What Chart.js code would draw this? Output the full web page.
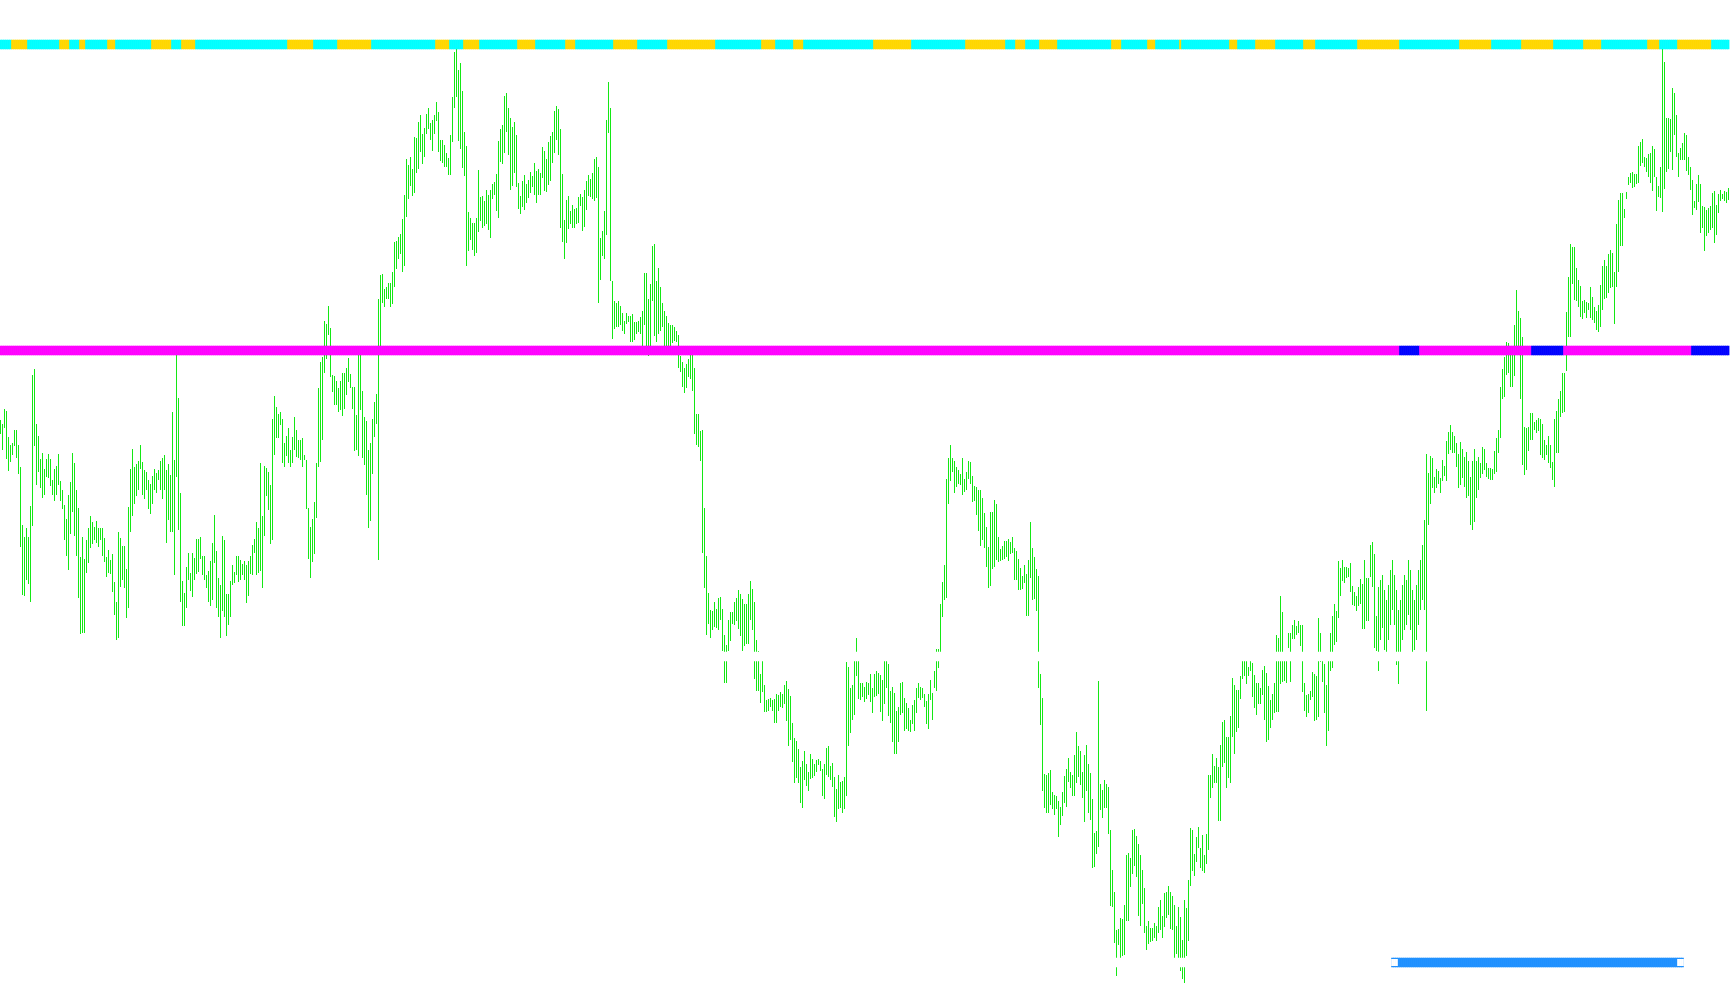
<!DOCTYPE html>
<html>
<head>
<meta charset="utf-8">
<script src="https://cdn.jsdelivr.net/npm/chart.js@4.4.1/dist/chart.umd.min.js"></script>
<style>
  html, body { margin: 0; padding: 0; background: #fff; overflow: hidden; }
  #priceChart { display: block; }
</style>
</head>
<body>
<canvas id="priceChart" width="1730" height="1005"></canvas>
<script>
// bar highs, one per bar (price units)
const highs = [
  580,576,591,589,563,555,557,570,570,555, 533,475,463,472,463,494,625,631,576,564,
  541,547,531,541,546,541,520,531,534,546, 519,510,495,481,505,518,547,537,510,492,
  443,463,441,460,472,484,478,473,479,472, 472,472,462,443,450,440,446,418,398,468,
  462,454,454,431,493,531,551,533,536,539, 555,538,530,528,520,516,524,531,527,530,
  539,542,545,530,536,525,588,540,650,602, 507,419,407,433,447,427,447,442,461,461,
  463,444,444,425,429,439,457,485,449,422, 415,464,460,406,406,419,435,428,444,444,
  440,436,439,435,439,444,455,461,478,472, 537,484,534,532,528,515,581,604,593,586,
  588,581,557,564,572,550,563,583,570,560, 560,562,545,540,492,473,481,498,537,612,
  638,643,679,676,694,672,625,624,619,612, 619,627,627,632,642,626,613,613,585,650,
  648,609,583,579,550,557,581,598,606,701, 725,726,711,713,717,717,728,758,759,763,
  766,781,805,841,835,843,831,863,862,878, 885,866,872,886,892,877,880,885,898,888,
  860,860,855,847,842,865,903,948,952,930, 937,909,868,854,788,782,777,777,782,830,
  803,804,799,810,805,810,816,818,826,859, 871,875,904,907,892,882,873,878,865,817,
  804,819,825,816,820,828,824,837,829,831, 827,853,849,841,858,864,868,889,894,891,
  871,826,780,800,804,789,795,791,792,803, 806,803,810,819,825,821,827,841,843,833,
  762,769,789,880,918,892,719,699,697,699, 694,687,679,687,684,684,686,678,678,679,
  683,689,727,727,701,716,754,756,719,732, 713,697,689,684,677,675,675,673,669,665,
  644,638,632,636,641,646,651,632,586,586, 569,570,492,444,407,390,389,398,391,402,
  403,391,365,355,380,388,388,398,402,410, 406,401,396,396,406,419,411,398,360,349,
  326,339,315,300,301,302,300,301,306,305, 308,306,315,319,311,304,277,262,259,251,
  233,239,249,236,228,246,241,236,240,241, 239,231,236,252,254,234,237,223,211,225,
  218,219,223,338,333,312,315,339,362,345, 317,317,313,318,317,326,312,326,329,327,
  325,320,339,342,336,309,313,307,289,293, 317,318,302,297,292,280,295,300,312,317,
  313,312,306,299,306,320,307,329,351,351, 396,418,435,521,542,555,542,539,533,530,
  526,542,521,528,539,538,524,514,513,510, 510,502,487,473,453,488,488,500,496,463,
  451,454,459,459,461,458,463,452,449,441, 432,424,435,426,440,478,452,443,431,424,
  326,302,226,225,227,230,208,205,204,199, 193,208,224,231,242,228,225,245,268,254,
  249,228,245,255,236,227,201,167,169,319, 216,210,220,216,213,170,130,108,70,71,
  82,81,95,145,147,142,170,171,164,156, 145,130,112,74,79,72,72,77,74,93,
  100,84,107,108,114,108,104,95,74,93, 83,60,100,92,120,172,170,146,163,173,
  152,165,145,166,225,225,246,234,242,233, 255,278,280,263,263,284,322,315,310,310,
  324,344,344,344,333,344,337,325,317,317, 312,330,334,327,314,300,306,317,365,362,
  404,388,345,345,367,367,375,380,374,379, 375,375,317,305,306,309,328,326,324,382,
  367,345,336,315,339,367,384,396,389,439, 432,440,433,433,432,437,414,408,404,413,
  421,416,440,422,422,455,458,446,384,413, 420,425,410,400,415,430,440,425,410,390,
  400,415,425,420,440,430,410,400,415,430, 440,455,480,546,527,544,542,523,531,529,
  522,540,534,559,568,575,568,564,557,546, 558,551,543,548,539,523,539,551,539,543,
  537,553,551,537,532,532,531,549,562,570, 613,631,643,658,657,645,654,675,710,689,
  682,663,573,572,573,587,587,578,580,582, 581,576,560,555,564,555,538,581,589,601,
  609,627,627,688,723,756,753,753,732,720, 714,699,700,698,697,713,703,693,689,695,
  715,734,740,734,746,750,747,728,776,800, 807,807,791,808,823,827,828,826,826,854,
  858,861,843,842,846,847,854,851,823,814, 833,951,938,882,882,881,912,907,885,847,
  852,857,867,865,843,833,820,799,816,825, 816,794,793,790,792,794,807,809,795,806,
  810,806,809,808,812
];

// bar lows, one per bar
const lows = [
  566,550,572,541,529,538,545,554,542,526, 453,405,404,420,416,398,474,554,515,528,
  512,502,505,523,522,514,505,499,505,515, 499,491,460,444,430,466,488,464,444,402,
  366,367,367,427,437,452,456,460,457,453, 460,444,438,423,427,426,408,385,360,362,
  413,420,412,382,392,468,484,496,504,510, 531,505,501,510,491,486,496,510,507,520,
  510,501,510,457,480,468,468,425,523,470, 398,374,374,392,420,409,403,420,426,428,
  441,425,420,412,398,394,400,437,392,383, 362,389,383,364,375,383,415,417,425,418,
  420,425,420,397,404,426,425,447,425,427, 429,412,464,504,490,456,460,545,562,562,
  575,537,533,544,537,533,537,550,543,542, 540,533,540,491,441,422,438,446,482,533,
  538,560,627,641,665,623,608,595,595,588, 590,584,591,605,618,612,591,549,550,544,
  590,542,535,505,472,479,526,563,576,440, 653,697,693,701,701,693,696,713,731,741,
  746,728,734,783,801,814,804,807,827,831, 848,836,843,866,871,860,849,866,879,848,
  839,837,833,833,825,825,858,892,903,859, 851,832,824,734,749,760,750,744,747,768,
  779,772,774,776,770,762,801,805,789,782, 838,836,847,868,845,810,814,827,813,791,
  786,793,790,797,802,807,813,805,797,805, 805,822,809,808,815,819,837,847,860,845,
  772,758,741,757,771,776,772,772,776,777, 794,769,773,790,804,803,801,799,802,697,
  720,744,741,765,867,719,661,671,673,673, 675,669,666,676,678,658,658,660,666,668,
  666,650,675,650,644,650,699,664,658,666, 669,673,652,650,650,650,657,659,658,632,
  628,613,607,612,623,621,609,566,555,553, 539,447,412,365,376,362,370,373,372,370,
  380,349,317,317,349,359,376,375,379,371, 364,349,354,356,356,380,370,321,309,309,
  297,308,288,288,289,293,289,277,277,289, 293,292,296,279,254,260,238,217,222,217,
  197,192,220,214,209,221,222,224,228,235, 229,204,201,225,223,220,213,183,178,191,
  192,187,191,204,254,267,280,285,324,301, 300,303,298,301,305,298,287,303,304,306,
  288,279,296,312,284,277,258,246,246,258, 285,287,269,271,269,268,276,269,287,302,
  300,302,293,276,271,300,280,312,309,332, 345,383,400,402,496,519,528,507,513,516,
  515,505,508,510,521,516,498,499,485,469, 454,460,452,433,412,414,431,433,440,438,
  439,440,441,443,439,446,447,420,420,410, 410,411,417,384,384,422,400,401,389,312,
  275,209,192,187,187,195,191,185,191,163, 175,184,197,193,218,212,204,204,217,223,
  215,202,178,209,187,180,132,133,146,153, 190,182,192,192,166,94,93,57,24,55,
  42,44,45,79,79,113,126,134,123,84, 74,96,67,50,56,58,59,62,59,67,
  70,62,73,82,85,71,70,42,46,42, 29,21,17,44,59,114,129,124,138,152,
  132,129,127,136,150,202,212,217,217,179, 179,233,237,212,222,217,263,246,268,272,
  301,321,324,316,324,329,303,292,285,296, 296,305,280,258,260,272,280,287,288,288,
  316,318,319,317,352,318,361,361,365,367, 354,308,289,283,287,300,303,279,280,283,
  338,318,287,254,269,329,332,355,358,382, 404,419,417,422,423,408,395,394,389,394,
  396,371,371,379,379,423,413,352,349,329, 360,372,350,340,360,375,390,375,335,316,
  340,360,370,375,385,370,345,350,360,375, 390,400,390,289,475,496,512,507,512,516,
  507,519,524,519,546,550,547,547,533,512, 515,522,513,502,504,475,470,478,502,510,
  522,526,530,523,521,520,520,526,528,547, 562,601,603,625,627,613,613,624,652,650,
  601,535,525,530,549,560,560,570,567,569, 545,542,540,545,537,532,520,513,547,547,
  583,587,588,629,663,663,716,700,699,693, 683,681,687,682,690,682,680,677,670,668,
  673,690,701,702,707,712,713,676,713,728, 754,754,782,801,815,817,812,813,816,817,
  834,837,833,828,823,817,809,823,789,803, 802,788,811,828,831,848,830,865,843,823,
  840,840,840,829,825,810,785,792,790,798, 767,772,749,764,767,770,772,757,765,787,
  799,801,799,797,800
];

// trend strip: run lengths in bars, alternating up (cyan) / down (gold), starting with up
const trendRuns = [6,8,16,5,5,3,11,4,18,10,5,7,46,13,12,17,32,7,7,8,19,9,15,5,19,12,15,24,23,7,9,5,35,19,27,20,5,5,7,9,27,5,13,4,12,1,24,4,9,10,14,6,21,21,30,16,15,16,15,9,23,6,9,17,9];
const trendBand = [951, 960];

// pivot level: run lengths alternating above (magenta) / below (blue), starting with magenta
const pivotRuns = [700, 10, 56, 16, 64, 19];
const pivotBand = [645, 654];

// levels drawn in background colour
const hiddenLevels = [[339, 348], [33, 42]];

// range marker at the bottom
const rangeBand = [33, 42];
const rangeStart = 696;
const rangeEnd = 841;

const labels = highs.map((_, i) => String(i));

function expandRuns(runs, colA, colB) {
  const out = [];
  runs.forEach((n, r) => {
    for (let j = 0; j < n; j++) out.push(r % 2 ? colB : colA);
  });
  return out;
}

const bandData = band => labels.map(() => band);
const capBars = 3;
const capInset = 1.3;

const datasets = [
  {
    label: 'range caps',
    data: labels.map((_, i) =>
      (i >= rangeStart && i < rangeStart + capBars) || (i <= rangeEnd && i > rangeEnd - capBars)
        ? [rangeBand[0] + capInset, rangeBand[1] - capInset] : null),
    backgroundColor: '#ffffff',
    order: 0
  },
  {
    label: 'range',
    data: labels.map((_, i) => (i >= rangeStart && i <= rangeEnd) ? rangeBand : null),
    backgroundColor: '#1e90ff',
    order: 1
  },
  {
    label: 'trend',
    data: bandData(trendBand),
    backgroundColor: expandRuns(trendRuns, '#00ffff', '#ffd700'),
    order: 2
  },
  {
    label: 'pivot',
    data: bandData(pivotBand),
    backgroundColor: expandRuns(pivotRuns, '#ff00ff', '#0000ff'),
    order: 2
  },
  ...hiddenLevels.map((lv, n) => ({
    label: 'hidden ' + n,
    data: bandData(lv),
    backgroundColor: '#ffffff',
    order: 3
  })),
  {
    label: 'price',
    data: highs.map((h, i) => [lows[i], h]),
    backgroundColor: '#14e814',
    maxBarThickness: 1,
    inflateAmount: 0,
    order: 5
  }
];

// shift drawing half a pixel so the 1px price bars land on whole pixels
const pixelSnap = {
  id: 'pixelSnap',
  beforeDatasetsDraw(chart) { chart.ctx.save(); chart.ctx.translate(-0.5, 0); },
  afterDatasetsDraw(chart) { chart.ctx.restore(); }
};

new Chart(document.getElementById('priceChart'), {
  type: 'bar',
  data: { labels, datasets },
  plugins: [pixelSnap],
  options: {
    responsive: false,
    animation: false,
    devicePixelRatio: 1,
    layout: { padding: 0 },
    datasets: {
      bar: { grouped: false, barPercentage: 1, categoryPercentage: 1 }
    },
    plugins: { legend: { display: false }, tooltip: { enabled: false } },
    scales: {
      x: { display: false, offset: true },
      y: { display: false, min: -5, max: 1000 }
    }
  }
});
</script>
</body>
</html>
